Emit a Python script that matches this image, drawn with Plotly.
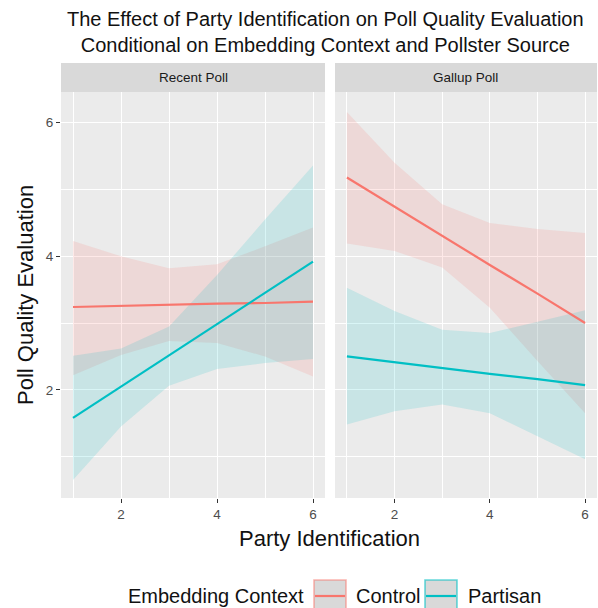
import plotly.graph_objects as go

# ---- data ----
party_id = [1, 2, 3, 4, 5, 6]
panels = ["Recent Poll", "Gallup Poll"]
groups = ["Control", "Partisan"]

recent_control_fit = [3.24, 3.26, 3.27, 3.29, 3.30, 3.32]
recent_control_upper = [4.23, 4.00, 3.82, 3.88, 4.15, 4.43]
recent_control_lower = [2.22, 2.52, 2.73, 2.70, 2.50, 2.20]

recent_partisan_fit = [1.58, 2.05, 2.52, 2.99, 3.45, 3.92]
recent_partisan_upper = [2.51, 2.62, 2.95, 3.72, 4.55, 5.36]
recent_partisan_lower = [0.65, 1.45, 2.06, 2.31, 2.40, 2.46]

gallup_control_fit = [5.18, 4.74, 4.31, 3.87, 3.44, 3.00]
gallup_control_upper = [6.16, 5.40, 4.78, 4.50, 4.41, 4.35]
gallup_control_lower = [4.19, 4.08, 3.83, 3.23, 2.43, 1.65]

gallup_partisan_fit = [2.50, 2.41, 2.33, 2.24, 2.16, 2.07]
gallup_partisan_upper = [3.53, 3.18, 2.90, 2.85, 3.02, 3.19]
gallup_partisan_lower = [1.48, 1.68, 1.78, 1.65, 1.30, 0.96]

x_ticks = [2, 4, 6]
y_ticks = [2, 4, 6]

# ---- styling ----
colors = {"Control": "#F8766D", "Partisan": "#00BFC4"}
fills = {"Control": "rgba(248,118,109,0.16)", "Partisan": "rgba(0,191,196,0.15)"}
key_borders = {"Control": "rgba(248,118,109,0.55)", "Partisan": "rgba(0,191,196,0.6)"}
FONT = "Liberation Sans, Arial, sans-serif"

series = [
    ("x", "y", "Control", recent_control_fit, recent_control_upper, recent_control_lower),
    ("x", "y", "Partisan", recent_partisan_fit, recent_partisan_upper, recent_partisan_lower),
    ("x2", "y2", "Control", gallup_control_fit, gallup_control_upper, gallup_control_lower),
    ("x2", "y2", "Partisan", gallup_partisan_fit, gallup_partisan_upper, gallup_partisan_lower),
]

fig = go.Figure()
for xa, ya, g, fit, up, lo in series:
    fig.add_trace(go.Scatter(
        x=party_id + party_id[::-1], y=up + lo[::-1],
        fill="toself", fillcolor=fills[g], line=dict(width=0),
        mode="lines", hoverinfo="skip", showlegend=False, xaxis=xa, yaxis=ya))
for xa, ya, g, fit, up, lo in series:
    fig.add_trace(go.Scatter(
        x=party_id, y=fit, mode="lines", line=dict(color=colors[g], width=2.2),
        showlegend=False, xaxis=xa, yaxis=ya, name=g))

W, H = 598, 608
def px_x(p):
    return p / W
def px_y(p):
    return 1 - p / H

left_dom = [px_x(61), px_x(325)]
right_dom = [px_x(335), px_x(597)]
y_dom = [px_y(498), px_y(92)]

TICKFONT = dict(size=13.5, color="#4D4D4D", family=FONT)

xcommon = dict(range=[0.75, 6.25], tickvals=x_ticks, showgrid=True, gridcolor="white",
               gridwidth=1.1, zeroline=False, ticks="outside", ticklen=4, tickwidth=1.1,
               tickcolor="#333333", tickfont=TICKFONT,
               minor=dict(tickvals=[1, 3, 5], showgrid=True, gridcolor="white", gridwidth=0.5,
                          ticks=""),
               showline=False, fixedrange=True)
ycommon = dict(range=[0.38, 6.46], tickvals=y_ticks, showgrid=True, gridcolor="white",
               gridwidth=1.1, zeroline=False, tickwidth=1.1,
               tickcolor="#333333", tickfont=TICKFONT,
               minor=dict(tickvals=[1, 3, 5], showgrid=True, gridcolor="white", gridwidth=0.5,
                          ticks=""),
               showline=False, fixedrange=True, domain=y_dom)

fig.update_layout(
    width=W, height=H, margin=dict(l=0, r=0, t=0, b=0),
    paper_bgcolor="white", plot_bgcolor="#EBEBEB",
    font=dict(family=FONT),
    showlegend=False,
    xaxis=dict(domain=left_dom, anchor="y", **xcommon),
    xaxis2=dict(domain=right_dom, anchor="y2", **xcommon),
    yaxis=dict(anchor="x", ticks="outside", ticklen=4, **ycommon),
    yaxis2=dict(anchor="x2", showticklabels=False, ticks="", **ycommon),
)

shapes = []
annotations = []
for dom, label in zip([left_dom, right_dom], panels):
    shapes.append(dict(type="rect", xref="paper", yref="paper", x0=dom[0], x1=dom[1],
                       y0=px_y(92), y1=px_y(63), fillcolor="#D9D9D9", line=dict(width=0),
                       layer="below"))
    annotations.append(dict(text=label, xref="paper", yref="paper", x=(dom[0] + dom[1]) / 2,
                            y=px_y(78), showarrow=False, xanchor="center", yanchor="middle",
                            font=dict(size=13.5, color="#1A1A1A", family=FONT)))

annotations.append(dict(text="The Effect of Party Identification on Poll Quality Evaluation<br>"
                             "Conditional on Embedding Context and Pollster Source",
                        xref="paper", yref="paper", x=px_x(325), y=px_y(32), showarrow=False,
                        xanchor="center", yanchor="middle", align="center",
                        font=dict(size=20, color="#111111", family=FONT)))
annotations.append(dict(text="Party Identification", xref="paper", yref="paper", x=px_x(329),
                        y=px_y(538), showarrow=False, xanchor="center", yanchor="middle",
                        font=dict(size=22, color="#111111", family=FONT)))
annotations.append(dict(text="Poll Quality Evaluation", xref="paper", yref="paper", x=px_x(25),
                        y=px_y(295), showarrow=False, xanchor="center", yanchor="middle",
                        textangle=-90, font=dict(size=22, color="#111111", family=FONT)))

ly = 596
annotations.append(dict(text="Embedding Context", xref="paper", yref="paper", x=px_x(126),
                        y=px_y(ly), showarrow=False, xanchor="left", yanchor="middle",
                        font=dict(size=20, color="#111111", family=FONT)))
for g, kx, tx in [("Control", 314, 354), ("Partisan", 425, 466)]:
    shapes.append(dict(type="rect", xref="paper", yref="paper", x0=px_x(kx), x1=px_x(kx + 32),
                       y0=px_y(ly + 15), y1=px_y(ly - 16), fillcolor="#D9D9D9",
                       line=dict(color=key_borders[g], width=1.6)))
    shapes.append(dict(type="line", xref="paper", yref="paper", x0=px_x(kx + 1), x1=px_x(kx + 31),
                       y0=px_y(ly), y1=px_y(ly), line=dict(color=colors[g], width=2.2)))
    annotations.append(dict(text=g, xref="paper", yref="paper", x=px_x(tx), y=px_y(ly),
                            showarrow=False, xanchor="left", yanchor="middle",
                            font=dict(size=20, color="#111111", family=FONT)))

fig.update_layout(shapes=shapes, annotations=annotations)
fig.write_html("out.html")
